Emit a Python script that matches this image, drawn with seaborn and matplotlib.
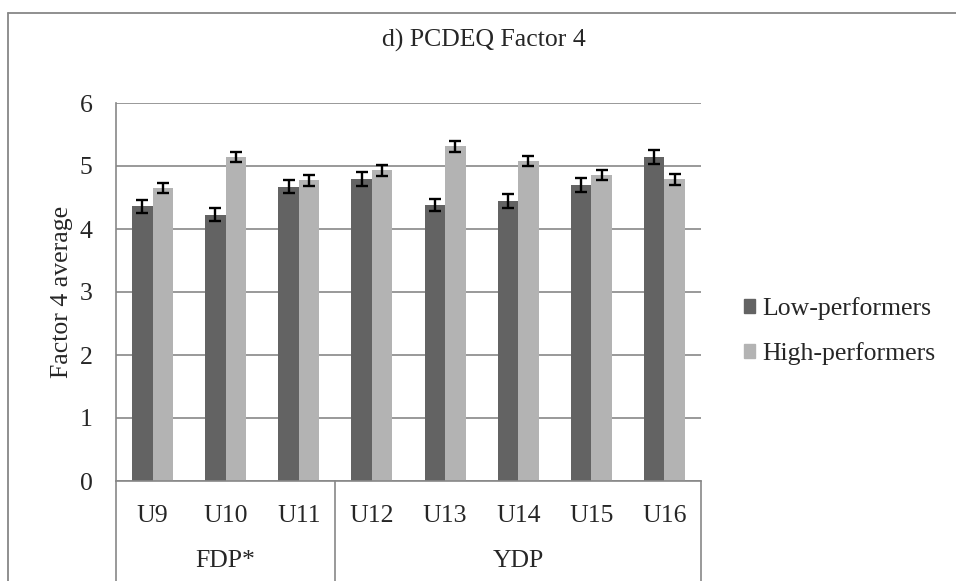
import matplotlib
matplotlib.use('Agg')
import matplotlib.pyplot as plt
import matplotlib.transforms as mtransforms
from matplotlib.lines import Line2D
import pandas as pd
import seaborn as sns

# === Datos ===
unidades = ['U9', 'U10', 'U11', 'U12', 'U13', 'U14', 'U15', 'U16']
programas = ['FDP*', 'FDP*', 'FDP*', 'YDP', 'YDP', 'YDP', 'YDP', 'YDP']
low_perf = [4.36, 4.23, 4.67, 4.79, 4.38, 4.45, 4.70, 5.14]
high_perf = [4.65, 5.14, 4.77, 4.93, 5.31, 5.08, 4.85, 4.79]
err_low = [0.10, 0.10, 0.10, 0.11, 0.10, 0.11, 0.11, 0.11]
err_high = [0.08, 0.08, 0.085, 0.085, 0.085, 0.085, 0.08, 0.085]
series = ['Low-performers', 'High-performers']
colores = ['#636363', '#b3b3b3']
gris = '#878787'

df = pd.DataFrame({
    'unidad': unidades * 2,
    'valor': low_perf + high_perf,
    'grupo': [series[0]] * len(unidades) + [series[1]] * len(unidades),
})

sns.set_style('white')
plt.rcParams['font.family'] = ['Liberation Serif', 'DejaVu Serif']
fs = 18.5

fig = plt.figure(figsize=(9.56, 5.81), dpi=100)
ax = fig.add_axes([116 / 956, 1 - 481 / 581, 585 / 956, 378 / 581])

sns.barplot(data=df, x='unidad', y='valor', hue='grupo', palette=colores,
            width=0.56, gap=0, legend=False, ax=ax, saturation=1,
            edgecolor='none')

# barras de error sobre cada barra
for cont, errs in zip(ax.containers, [err_low, err_high]):
    xs = [p.get_x() + p.get_width() / 2 for p in cont.patches]
    ys = [p.get_height() for p in cont.patches]
    ax.errorbar(xs, ys, yerr=errs, fmt='none', ecolor='black',
                elinewidth=1.7, capsize=4.2, capthick=1.7, zorder=5)

ax.set_ylim(0, 6)
ax.set_xlim(-0.5, len(unidades) - 0.5)
ax.set_yticks(range(7))
ax.yaxis.grid(True, color=gris, linewidth=1.2)
ax.set_axisbelow(True)
for s in ['top', 'right']:
    ax.spines[s].set_visible(False)
for s in ['left', 'bottom']:
    ax.spines[s].set_color(gris)
    ax.spines[s].set_linewidth(1.2)
ax.tick_params(axis='y', length=0, pad=17, labelsize=fs)
ax.tick_params(axis='x', length=0, pad=17, labelsize=fs)
ax.set_xlabel('')
ax.set_ylabel('Factor 4 average', fontsize=fs)
ax.yaxis.set_label_coords((73 - 116) / 585, 0.5)

# etiquetas de segundo nivel (programa) y separadores
trans = mtransforms.blended_transform_factory(ax.transData, ax.transAxes)
grupos = list(dict.fromkeys(programas))
for g in grupos:
    idx = [i for i, p in enumerate(programas) if p == g]
    ax.text(sum(idx) / len(idx), -0.212, g, transform=trans, ha='center',
            va='center', fontsize=fs)
cortes = [-0.5] + [i + 0.5 for i in range(len(programas) - 1) if programas[i] != programas[i + 1]] + [len(programas) - 0.5]
for c in cortes:
    ax.plot([c, c], [0, -0.3], transform=trans, color=gris, lw=1.2, clip_on=False)

# título y leyenda
fig.text(484 / 956, 1 - 40 / 581, 'd) PCDEQ Factor 4', ha='center', va='center', fontsize=fs)
handles = [plt.Rectangle((0, 0), 1, 1, color=c) for c in colores]
fig.legend(handles, series, loc='center left', bbox_to_anchor=(731 / 956, 1 - 331 / 581),
           frameon=False, fontsize=fs, handlelength=0.45, handleheight=0.45,
           handletextpad=0.25, labelspacing=0.85, borderpad=0)

# marco exterior del gráfico
y0 = 1 - 13 / 581
x0 = 8 / 956
fig.add_artist(Line2D([x0, x0], [0, y0], color=gris, lw=1.3))
fig.add_artist(Line2D([x0, 1], [y0, y0], color=gris, lw=1.3))

fig.savefig('out.png', dpi=100)
